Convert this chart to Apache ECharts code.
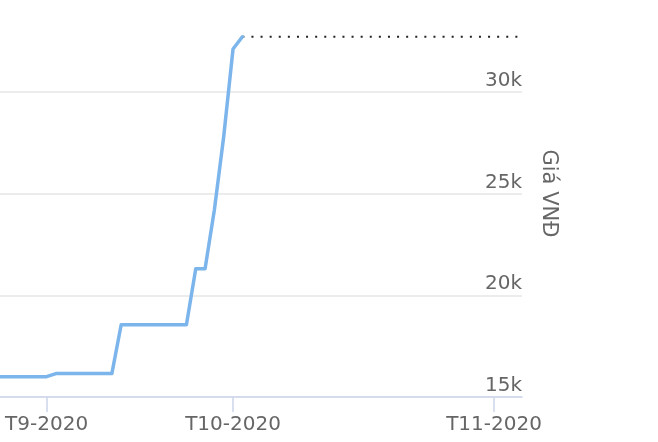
<!DOCTYPE html>
<html><head><meta charset="utf-8">
<script src="https://cdn.jsdelivr.net/npm/echarts@6/dist/echarts.min.js"></script>
<style>html,body{margin:0;padding:0;background:#fff}#c{width:658px;height:442px}</style>
</head><body><div id="c"></div>
<script>
// ordinal (trading-day) positions and prices in VND
const priceIdx = [0, 5, 6, 12, 13, 20, 21, 22, 23, 24, 25, 26];
const priceVal = [16000, 16000, 16150, 16150, 18550, 18550, 21300, 21300, 24200, 27800, 32100, 32700];
// dotted "last price" line
const lastIdx = [26, 56];
const lastVal = [32700, 32700];
// axis ticks and labels
const xTickIdx = [5, 25, 53];
const xTickLabels = ['T9-2020', 'T10-2020', 'T11-2020'];
const yTicks = [15000, 20000, 25000, 30000, 35000];
const yTickLabels = ['15k', '20k', '25k', '30k', '35k'];
const yName = 'Giá VNĐ';

const FONT = 'DejaVu Sans';
const chart = echarts.init(document.getElementById('c'), null, {renderer: 'canvas'});
chart.setOption({
  animation: false,
  backgroundColor: '#ffffff',
  grid: {left: 0, right: 136, top: -10, bottom: 45, containLabel: false, outerBoundsMode: 'none'},
  xAxis: {
    type: 'value', min: 0, max: 56,
    axisLine: {show: true, lineStyle: {color: '#ccd6eb', width: 1.5}},
    axisTick: {show: true, customValues: xTickIdx, length: 15, lineStyle: {color: '#ccd6eb', width: 1.5}},
    axisLabel: {
      customValues: xTickIdx, margin: 18, color: '#666666', fontFamily: FONT, fontSize: 20,
      formatter: v => { const i = xTickIdx.indexOf(v); return i >= 0 ? xTickLabels[i] : ''; }
    },
    splitLine: {show: false}
  },
  yAxis: {
    type: 'value', position: 'right', min: 15000, max: 35000, interval: 5000,
    name: yName, nameLocation: 'middle', nameRotate: -90, nameGap: 16,
    nameTextStyle: {color: '#666666', fontFamily: FONT, fontSize: 21},
    axisLine: {show: false}, axisTick: {show: false},
    axisLabel: {
      inside: true, margin: 0, color: '#666666', fontFamily: FONT, fontSize: 20,
      verticalAlign: 'bottom', padding: [0, 0, 1, 0],
      formatter: v => { const i = yTicks.indexOf(v); return i >= 0 ? yTickLabels[i] : ''; }
    },
    splitLine: {show: true, lineStyle: {color: '#e6e6e6', width: 1.5}}
  },
  series: [
    {
      type: 'line', z: 1, symbol: 'none', silent: true,
      data: lastIdx.map((x, i) => [x, lastVal[i]]),
      lineStyle: {color: '#222222', width: 2, type: [2, 7.1]}
    },
    {
      type: 'line', z: 2, symbol: 'none', silent: true,
      data: priceIdx.map((x, i) => [x, priceVal[i]]),
      lineStyle: {color: '#7cb5ec', width: 3.5, cap: 'round', join: 'round'}
    }
  ]
});
</script></body></html>
